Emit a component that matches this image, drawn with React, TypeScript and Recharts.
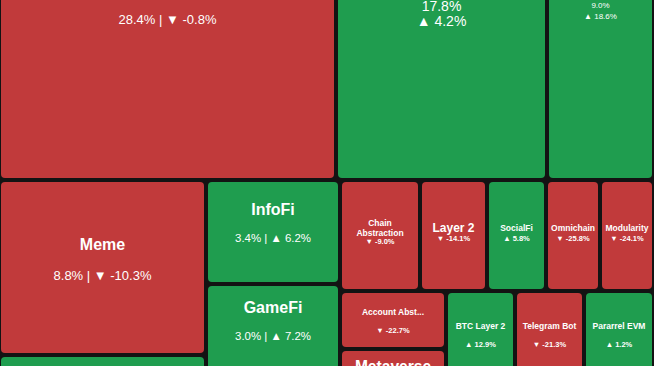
import { Treemap } from 'recharts';

// sectors (first three names and the fillers below the visible area are off-screen)
const names = [
  'Layer 1', 'DeFi', 'AI', 'Meme', 'RWA', 'InfoFi', 'GameFi', 'DePIN',
  'Chain Abstraction', 'Layer 2', 'SocialFi', 'Omnichain', 'Modularity',
  'Account Abstraction', 'Metaverse', 'Restaking', 'BTC Layer 2', 'Telegram Bot',
  'Pararrel EVM', 'Liquid Staking',
];
const shares = [
  28.4, 17.8, 9.0, 8.8, 7.8, 3.4, 3.0, 4.4,
  2.16, 1.81, 1.6, 1.46, 1.46,
  1.5, 2.06, 2.1, 1.45, 1.45,
  1.46, 6.7,
];
const changes = [
  -0.8, 4.2, 18.6, -10.3, 5.1, 6.2, 7.2, 3.3,
  -9.0, -14.1, 5.8, -25.8, -24.1,
  -22.7, -12.6, -6.4, 12.9, -21.3,
  1.2, 2.4,
];

// how the sectors nest, by index into the lists above
const groups = [
  [[0, 1], 2],
  [[[3, 4], [5, [6, 7]]], [[[8, 9], [[10, 11], 12]], [[13, [14, 15]], [[16, [17, 18]], 19]]]],
];

const RED = '#c13a3b';
const GREEN = '#1f9d4f';
const FONT = '"Liberation Sans", Arial, sans-serif';

type Group = number | Group[];

function build(g: Group): any {
  if (typeof g === 'number') {
    return { name: names[g], value: shares[g], share: shares[g], change: changes[g] };
  }
  return { children: g.map(build) };
}
const tree = (groups as Group[]).map(build);

function Tile(props: any) {
  const { x, y, width: w, height: h, children, name, share, change } = props;
  if ((children && children.length) || !(w > 0) || !(h > 0) || change === undefined) return null;
  const up = change >= 0;
  const cx = x + w / 2;
  const cy = y + h / 2;
  const chg = `${up ? '▲' : '▼'} ${change.toFixed(1)}%`;
  const txt = {
    fill: '#fff', textAnchor: 'middle' as const, dominantBaseline: 'central' as const,
    fontFamily: FONT, x: cx,
  };
  const big = w >= 100 && h >= 75;
  let labels;

  if (big && h > 1.5 * w) {
    // tall tiles: name, share and change on separate lines
    const fs = Math.max(8, Math.min(14, w / 15));
    const sp = fs * 0.65 + 6;
    const y0 = cy - 1.5;
    labels = (
      <>
        <text {...txt} y={y0 - sp} fontSize={fs} fontWeight="bold">{name}</text>
        <text {...txt} y={y0} fontSize={fs}>{share.toFixed(1)}%</text>
        <text {...txt} y={y0 + sp} fontSize={fs}>{chg}</text>
      </>
    );
  } else if (big) {
    const tfs = Math.min(16, w / 6.8);
    const vfs = Math.min(13, w / 11.7);
    labels = (
      <>
        <text {...txt} y={cy - 23} fontSize={tfs} fontWeight="bold">{name}</text>
        <text {...txt} y={cy + 3.5 + h * 0.025} fontSize={vfs}>{`${share.toFixed(1)}% | ${chg}`}</text>
      </>
    );
  } else {
    let fs = w * h >= 7000 ? 12 : 8.5;
    let lines = [name];
    if (name.length > 15) {
      fs = 8.5;
      lines = h >= 90 ? name.split(' ') : [name.slice(0, 12) + '...'];
    }
    const gap = lines.length > 1 ? 9 : (w / h < 0.75 ? 11 : 18);
    const top = cy - 8 - (lines.length - 1) * 5;
    labels = (
      <>
        {lines.map((l, i) => (
          <text key={i} {...txt} y={top + i * 10} fontSize={fs} fontWeight="bold">{l}</text>
        ))}
        <text {...txt} y={top + (lines.length - 1) * 10 + gap} fontSize={7.5} fontWeight="bold">{chg}</text>
      </>
    );
  }

  return (
    <g>
      <rect x={x + 2} y={y + 2} width={w - 4} height={h - 4} rx={4} fill={up ? GREEN : RED} />
      {labels}
    </g>
  );
}

export default function App() {
  return (
    <div style={{
      position: 'fixed', left: 0, top: 0, width: 654, height: 366,
      overflow: 'hidden', background: '#131313',
    }}>
      <div style={{ position: 'absolute', left: -1, top: -166 }}>
        <Treemap
          width={655}
          height={676}
          data={tree}
          dataKey="value"
          aspectRatio={1}
          isAnimationActive={false}
          content={<Tile />}
        />
      </div>
    </div>
  );
}
